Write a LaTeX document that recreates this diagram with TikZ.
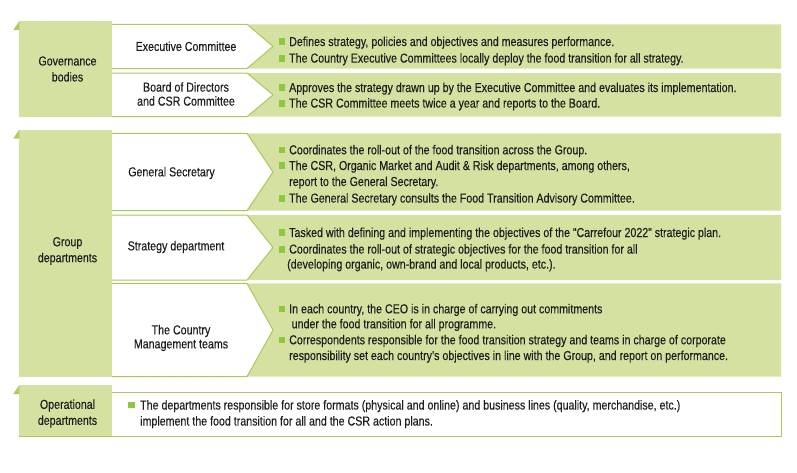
\documentclass[tikz,border=0pt]{standalone}
\usepackage{fontspec}
\setmainfont{Liberation Sans}[FakeStretch=0.82,FakeBold=0.25]
\definecolor{lgreen}{HTML}{D4E1A0}
\definecolor{lngreen}{HTML}{A9C95A}
\definecolor{bgreen}{HTML}{8DC63F}
\definecolor{tgreen}{HTML}{AFCC64}
\definecolor{txtc}{HTML}{1E1E1E}
\newcommand{\fsz}{\fontsize{13}{16}\selectfont}
\begin{document}
\begin{tikzpicture}[x=1pt,y=-1pt,
  txt/.style={font=\fsz, inner sep=0pt, anchor=base west, text=txtc},
  ctr/.style={font=\fsz, inner sep=0pt, align=center, text=txtc},
  ctrs/.style={font=\fontsize{13}{14}\selectfont, inner sep=0pt, align=center, text=txtc},
  bulsq/.style={fill=bgreen, minimum size=6.5pt, inner sep=0pt, anchor=west},
  tabfill/.style={fill=lgreen},
  flag/.style={fill=tgreen},
  rowline/.style={draw=lngreen, line width=1pt}
]
\useasboundingbox (0,0) rectangle (797,472);

% ---------- tabs ----------
\fill[tabfill] (19,21) rectangle (112,117);
\fill[flag] (13.3,30) -- (19.3,21) -- (19.3,30) -- cycle;
\fill[tabfill] (19,129.5) rectangle (112,377);
\fill[flag] (13.3,138.5) -- (19.3,129.5) -- (19.3,138.5) -- cycle;
\fill[tabfill] (19,385) rectangle (112,437);
\fill[flag] (13.3,394) -- (19.3,385) -- (19.3,394) -- cycle;

% ---------- chevron rows ----------
\foreach \t/\b in {24.3/68.5, 73/116.7, 133.3/210.7, 215/280, 283.3/376.7}{
  \pgfmathsetmacro{\m}{(\t+\b)/2}
  \fill[lgreen] (247,\t) -- (781,\t) -- (781,\b) -- (247,\b) -- (273,\m) -- cycle;
  \fill[white] (112,\t) -- (247,\t) -- (273,\m) -- (247,\b) -- (112,\b) -- cycle;
  \draw[rowline] (112,\t) -- (247,\t) -- (273,\m) -- (247,\b) -- (112,\b);
}

% ---------- operational row ----------
\fill[white] (112,392.7) rectangle (781,436.7);
\draw[rowline] (112,392.7) -- (781,392.7) -- (781,436.7) -- (19,436.7);

% ---------- left labels ----------
\node[ctr] (gov) at (67.5,69) {Governance\\bodies};
\node[ctr] (grp) at (67.5,251) {Group\\departments};
\node[ctr] (ops) at (67.5,413.5) {Operational\\departments};

% ---------- middle labels ----------
\node[ctr] (exec) at (186,46.3) {Executive Committee};
\node[ctrs] (board) at (186,94) {Board of Directors\\and CSR Committee};
\node[ctr] (gensec) at (171.5,173) {General Secretary};
\node[ctr] (strat) at (176,247) {Strategy department};
\node[ctrs] (ctry) at (181,338) {The Country\\Management teams};

% ---------- bullets ----------
\node[bulsq] (q1) at (278.5,41.7) {};
\node[txt] (l1) at (289,46) {Defines strategy, policies and objectives and measures performance.};
\node[bulsq] (q2) at (278.5,58.3) {};
\node[txt] (l2) at (289,62.6) {The Country Executive Committees locally deploy the food transition for all strategy.};
\node[bulsq] (q3) at (278.5,87.7) {};
\node[txt] (l3) at (289,92) {Approves the strategy drawn up by the Executive Committee and evaluates its implementation.};
\node[bulsq] (q4) at (278.5,103.3) {};
\node[txt] (l4) at (289,107.6) {The CSR Committee meets twice a year and reports to the Board.};

\node[bulsq] (q5) at (278.5,150) {};
\node[txt] (l5) at (289,154.3) {Coordinates the roll-out of the food transition across the Group.};
\node[bulsq] (q6) at (278.5,165.7) {};
\node[txt] (l6) at (289,170) {The CSR, Organic Market and Audit \& Risk departments, among others,};
\node[txt] (l6b) at (289,186) {report to the General Secretary.};
\node[bulsq] (q7) at (278.5,198.3) {};
\node[txt] (l7) at (289,202.6) {The General Secretary consults the Food Transition Advisory Committee.};

\node[bulsq] (q8) at (278.5,232.7) {};
\node[txt] (l8) at (289,237) {Tasked with defining and implementing the objectives of the “Carrefour 2022” strategic plan.};
\node[bulsq] (q9) at (278.5,249.3) {};
\node[txt] (l9) at (289,253.6) {Coordinates the roll-out of strategic objectives for the food transition for all};
\node[txt] (l9b) at (287,268.6) {(developing organic, own-brand and local products, etc.).};

\node[bulsq] (q10) at (278.5,309) {};
\node[txt] (l10) at (289,313.3) {In each country, the CEO is in charge of carrying out commitments};
\node[txt] (l10b) at (291.5,328.3) {under the food transition for all programme.};
\node[bulsq] (q11) at (278.5,340) {};
\node[txt] (l11) at (289,344.3) {Correspondents responsible for the food transition strategy and teams in charge of corporate};
\node[txt] (l11b) at (289,360) {responsibility set each country’s objectives in line with the Group, and report on performance.};

\node[bulsq] (q12) at (128,405) {};
\node[txt] (l12) at (140,409.5) {The departments responsible for store formats (physical and online) and business lines (quality, merchandise, etc.)};
\node[txt] (l12b) at (140,425.5) {implement the food transition for all and the CSR action plans.};
\end{tikzpicture}
\end{document}
